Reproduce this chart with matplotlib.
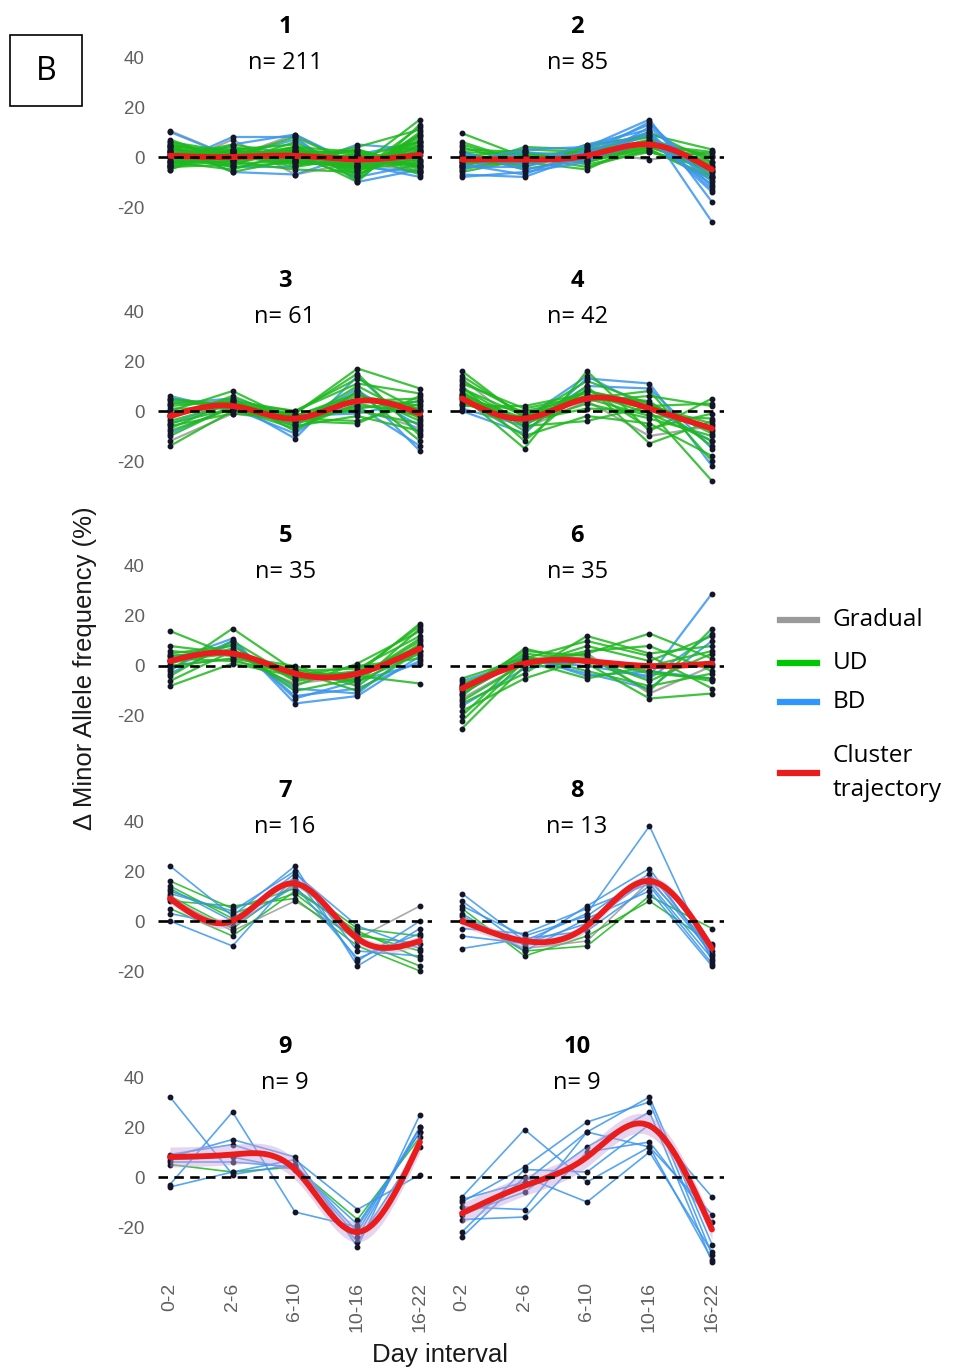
import numpy as np
import matplotlib.pyplot as plt
from matplotlib.lines import Line2D
from matplotlib.patches import Rectangle

plt.rcParams["axes.unicode_minus"] = False

# Day intervals on the x axis
intervals = ["0-2", "2-6", "6-10", "10-16", "16-22"]

# Cluster ids and sizes
cluster_ids = [1, 2, 3, 4, 5, 6, 7, 8, 9, 10]
cluster_n = [211, 85, 61, 42, 35, 35, 16, 13, 9, 9]

# Change in minor allele frequency (%) per variant, grouped by pattern
c1_ud = [[2, -1, 1, -3, 5], [-3, 2, -2, 1, -4], [5, 0, 3, -5, 8], [-4, -3, 4, -6, 12],
         [6, 2, -1, -4, 15], [1, 4, 0, -8, 10], [-2, -5, 2, 2, -6], [3, 1, -3, -2, -3],
         [7, -2, 6, -7, 3], [-5, 3, 1, -1, 2], [0, -4, -2, 3, -5], [4, 3, 5, -9, 9],
         [-1, 1, -4, 0, 6], [2, -3, 3, -5, -2], [-3, 0, 8, -3, 4], [5, -6, -1, 1, -7],
         [1, 2, 2, -10, 13], [-4, 1, 0, 3, -4], [3, -2, -5, -6, 7], [0, 5, 1, -2, 1],
         [6, -1, 4, -4, -1], [-2, 2, -1, 4, 11], [1, -1, 0, -2, 2], [-1, 0, 1, -1, -1],
         [3, 2, -2, -3, 4], [-2, -2, 3, 1, -3], [4, -1, 2, -4, 6], [-3, 3, -3, -1, 3],
         [2, 0, 4, 2, -2], [0, -3, -1, -5, 9], [5, 1, 1, 0, -4], [-4, -1, 2, -7, 5]]
c1_bd = [[10, 0, 7, -8, -3], [-3, 8, 8, -10, -5], [4, -6, -7, 1, 6], [-5, 5, 9, -3, -8],
         [2, -4, -4, 5, 3], [-2, 3, -2, -4, -6]]
c1_gr = [[10.5, 0, 9, -4, 2], [-4, 7, -7, -2, -6]]

c2_ud = [[5, -2, 1, 7, 0], [-3, 1, -2, 4, -5], [2, -4, 4, 9, 3], [-5, 0, -4, 3, -8],
         [0, 3, 2, 6, -3], [9.5, 0, -1, 5, 2], [-2, -3, 5, 8, -6], [3, 2, -3, 2, -4],
         [-6, -1, 1, 10, -2], [1, -5, 0, 3, -9], [-4, 4, 3, 5, 1], [6, -2, -5, 7, -7],
         [0, 0, 1, 4, -4], [-1, -2, -1, 6, -6], [2, 1, 2, 5, -2], [-3, -1, 0, 2, -5],
         [4, -3, 3, 8, -8], [-2, 2, -2, 4, 0]]
c2_bd = [[-7, -8, 1, 14, -12], [-2, 3, 4, 15, -18], [-8, -6, -2, 12, -10],
         [1, -3, 5, 11, -26], [-5, 2, 0, 9, -14], [-3, -7, 3, 13, -8], [2, -5, -1, 6, -11],
         [-4, -4, 2, 10, -13]]
c2_gr = [[-4, -2, 2, -1, 2]]

c3_ud = [[-4, 3, -2, 6, 2], [2, 4, -5, 10, -3], [-8, 1, -1, 17, 9], [0, 8, -4, 4, 5],
         [-10, 2, -6, -2, -8], [4, 3, 0, 13, 0], [-6, -1, -3, -4, 3], [-2, 5, -8, 8, -12],
         [-14, 0, -2, 0, -5], [5, 2, -1, 15, -10], [-3, 6, -4, -5, 6], [1, 1, -7, 3, -2],
         [-7, 4, 0, 11, 7], [-1, 2, -3, 5, 1], [-5, 1, -5, 2, 0], [3, 3, -2, 7, -4],
         [-2, 4, -4, 1, 4]]
c3_bd = [[5, 1, -9, 8, -6], [-5, 3, -11, 14, -9], [6, 0, -3, 2, -14], [-9, 2, -6, 9, -16],
         [3, 5, -2, -1, 4]]
c3_gr = [[-12, -1, -4, 1, -7]]

c4_ud = [[14, -2, 8, 2, -5], [9, -5, 3, -3, -10], [6, -15, 16, -8, 5], [11, 1, 6, 4, -14],
         [3, -4, 1, 0, -28], [8, -8, 10, -13, -4], [12, -1, 4, 6, 2], [5, -10, -2, -5, -18],
         [16, -3, 12, 3, -9], [2, 2, 7, -1, -12], [7, -6, -4, 2, 3], [10, -12, 9, -7, -1],
         [4, 0, 5, 8, -20], [6, -3, 6, 1, -7], [9, -2, 5, -2, -3], [7, -5, 8, 3, -8]]
c4_bd = [[0, -9, 13, 11, -22], [1, -6, 10, 9, -15], [3, -3, 14, 1, -12]]
c4_gr = [[13, -7, 4, -10, -6]]

c5_ud = [[14, 4, -4, -6, 5], [-2, 15, -2, -1, 12], [5, 8, -6, -3, 17], [0, 3, -1, -8, 9],
         [-6, 6, -8, 1, 14], [3, 2, -3, -4, -7], [-4, 10, -5, -2, 16], [8, 5, -2, -10, 6],
         [1, 7, -10, -5, 11], [-8, 1, -4, 0, 3], [6, 4, 0, -7, 15], [2, 5, -3, -3, 8],
         [4, 6, -5, -5, 10]]
c5_bd = [[2, 11, -15, -12, 4], [-3, 9, -12, -9, 2], [4, 6, -9, -11, 8], [-1, 10, -13, -6, 1]]
c5_gr = [[0, 3, -7, -4, 6]]

c6_ud = [[-7, 2, 5, 13, 3], [-10, 5, 2, -2, -6], [-15, -3, 12, 5, 8], [-20, 4, -2, -8, -3],
         [-25, 0, 8, 2, 12], [-12, 7, 1, -13, -11], [-18, -5, 3, -6, 5], [-5, 3, 10, 4, -9],
         [-22, 2, -5, 0, 6], [-9, 6, 4, -10, 15], [-14, 1, 6, 8, -2], [-8, 1, 2, 0, 1],
         [-11, 3, 3, -3, -5]]
c6_bd = [[-6, 2, 0, -4, 29], [-11, 3, -3, -9, 10], [-16, -1, 2, -5, 13], [-8, 4, -4, -2, -5]]
c6_gr = [[-13, 1, 5, -11, 0]]

c7_ud = [[16, 5, 13, -5, -12], [12, 3, 11, -8, -18], [10, -3, 15, -3, -6],
         [8, 6, 9, -10, -20], [14, 1, 17, -6, -9], [5, -6, 12, -4, -15]]
c7_bd = [[22, 2, 22, -18, -3], [0, -10, 18, -16, 0], [11, 4, 20, -12, -14],
         [3, -2, 14, -15, -5], [13, 0, 19, -2, -11]]
c7_gr = [[9, -4, 8, -7, 6]]

c8_ud = [[2, -12, -10, 10, -3], [5, -14, -6, 8, -9]]
c8_bd = [[11, -8, 3, 38, -16], [8, -10, 6, 21, -14], [6, -6, 2, 19, -12],
         [-11, -7, -4, 14, -17], [-3, -5, 5, 15, -15], [-6, -9, -1, 17, -13],
         [3, -12, 1, 12, -18]]
c8_gr = [[0, -11, -8, 16, -10]]

c9_ud = [[5, 2, 4, -17, 16]]
c9_bd = [[32, 1, 5, -22, 20], [-3, 26, -14, -20, 18], [8, 15, 8, -28, 25],
         [-4, 2, 7, -13, 1], [9, 13, 5, -24, 20], [7, 8, 3, -26, 12], [6, 6, 4, -19, 18]]
c9_gr = []

c10_ud = []
c10_bd = [[-8, 19, -2, 12, -15], [-10, 4, 22, 30, -31], [-12, -13, 18, 32, -27],
          [-15, -6, 12, 26, -34], [-17, -16, 10, 14, -18], [-22, 3, 2, 21, -8],
          [-24, 0, -10, 10, -30], [-9, -2, 18, 12, -33]]
c10_gr = []

# Cluster trajectories (smoothed mean)
c_traj = [[0.5, 0, 0.5, -1, 0.8], [-1, -1, 0.5, 5, -5], [-2, 2, -3, 4, -1],
          [5, -3, 5, 1, -7], [2, 5, -3, -3, 7], [-9, 1, 2, 0, 1],
          [9, 0, 15, -7, -8], [0, -8, -2, 16, -11], [8, 9, 3, -22, 14],
          [-14.5, -3.5, 8, 20.5, -21]]
# half-width of the trajectory ribbon
c_band = [1, 1, 1, 1, 1, 1, 2, 2, 4, 4]

ud_sets = [c1_ud, c2_ud, c3_ud, c4_ud, c5_ud, c6_ud, c7_ud, c8_ud, c9_ud, c10_ud]
bd_sets = [c1_bd, c2_bd, c3_bd, c4_bd, c5_bd, c6_bd, c7_bd, c8_bd, c9_bd, c10_bd]
gr_sets = [c1_gr, c2_gr, c3_gr, c4_gr, c5_gr, c6_gr, c7_gr, c8_gr, c9_gr, c10_gr]

GREEN = "#1fb81f"
BLUE = "#3b95ee"
GRAY = "#9a9a9a"
RED = "#ea1c1c"
TICK = "#606060"
CAL = ["Open Sans", "DejaVu Sans"]
ARIAL = ["Liberation Sans", "DejaVu Sans"]


def natural_spline(y, num=200):
    y = np.asarray(y, dtype=float)
    n = len(y)
    A = np.zeros((n, n))
    b = np.zeros(n)
    A[0, 0] = A[-1, -1] = 1
    for i in range(1, n - 1):
        A[i, i - 1], A[i, i], A[i, i + 1] = 1, 4, 1
        b[i] = 6 * (y[i + 1] - 2 * y[i] + y[i - 1])
    M = np.linalg.solve(A, b)
    xs = np.linspace(0, n - 1, num)
    k = np.minimum(xs.astype(int), n - 2)
    t = xs - k
    ys = ((1 - t) * y[k] + t * y[k + 1]
          + ((1 - t) ** 3 - (1 - t)) * M[k] / 6 + (t ** 3 - t) * M[k + 1] / 6)
    return xs, ys


W, H = 956, 1370
fig = plt.figure(figsize=(W / 100, H / 100), dpi=100)

col_left = [157.5, 449.5]
zero_rows = [157, 411, 666, 921, 1177]
ax_w, ax_h = 275, 200
x = np.arange(len(intervals))

for idx in range(10):
    r, c = divmod(idx, 2)
    top = zero_rows[r] - 110
    ax = fig.add_axes([col_left[c] / W, 1 - (top + ax_h) / H, ax_w / W, ax_h / H])
    ax.set_xlim(-0.2, 4.2)
    ax.set_ylim(-36, 44)

    lw = 1.6 if cluster_n[idx] > 30 else 1.2
    # mostly-UD clusters get their green lines drawn last
    if idx in (0, 2, 3, 4, 5):
        order = [(gr_sets[idx], GRAY), (bd_sets[idx], BLUE), (ud_sets[idx], GREEN)]
    else:
        order = [(gr_sets[idx], GRAY), (ud_sets[idx], GREEN), (bd_sets[idx], BLUE)]
    for lines, col in order:
        for v in lines:
            ax.plot(x, v, color=col, lw=lw, alpha=0.85, zorder=2)
            ax.plot(x, v, "o", color="#15152a", ms=3.2, zorder=3)

    xs, ys = natural_spline(c_traj[idx])
    ax.fill_between(xs, ys - c_band[idx], ys + c_band[idx], color="#c8a2dc",
                    alpha=0.45, lw=0, zorder=4)
    ax.plot(xs, ys, color=RED, lw=4.2, solid_capstyle="round", zorder=5)
    ax.axhline(0, color="black", lw=1.9, dashes=(3.6, 2.4), zorder=6)

    for s in ax.spines.values():
        s.set_visible(False)
    ax.tick_params(length=0, colors=TICK, labelsize=13.5)
    ax.set_yticks([-20, 0, 20, 40])
    if c == 1:
        ax.set_yticklabels([])
    else:
        ax.tick_params(axis="y", pad=9)
    ax.set_xticks(x)
    if r == 4:
        ax.set_xticklabels(intervals, rotation=90, va="top")
        ax.tick_params(axis="x", pad=11, labelsize=14)
    else:
        ax.set_xticklabels([])
    for t in ax.get_xticklabels() + ax.get_yticklabels():
        t.set_family(ARIAL)

    ax.text(0.464, 1.1, str(cluster_ids[idx]), transform=ax.transAxes,
            ha="center", va="center", fontsize=17, fontweight="bold", family=CAL)
    ax.text(0.464, 0.92, f"n= {cluster_n[idx]}", transform=ax.transAxes,
            ha="center", va="center", fontsize=17, family=CAL)

fig.text(440 / W, 1 - 1355 / H, "Day interval", ha="center", va="center",
         fontsize=18.5, color="#1a1a1a", family=ARIAL)
fig.text(85 / W, 1 - 668 / H, "Δ Minor Allele frequency (%)", rotation=90,
         ha="center", va="center", fontsize=18.5, color="#1a1a1a", family=ARIAL)

# Panel letter
fig.add_artist(Rectangle((10 / W, 1 - 106 / H), 72 / W, 71 / H, transform=fig.transFigure,
                         fill=False, ec="black", lw=1.2))
fig.text(46 / W, 1 - 72 / H, "B", ha="center", va="center", fontsize=23, family=CAL)

# Legend
leg_items = [("Gradual", GRAY, 620), ("UD", "#00c800", 663), ("BD", "#2f95ff", 702),
             ("Cluster\ntrajectory", RED, 773)]
for label, col, yp in leg_items:
    fig.add_artist(Line2D([780 / W, 817 / W], [1 - yp / H, 1 - yp / H],
                          transform=fig.transFigure, color=col, lw=4.5))
    fig.text(833 / W, 1 - yp / H, label, ha="left", va="center", fontsize=17.5,
             family=CAL, linespacing=1.6)

fig.savefig("out.png", dpi=100)
